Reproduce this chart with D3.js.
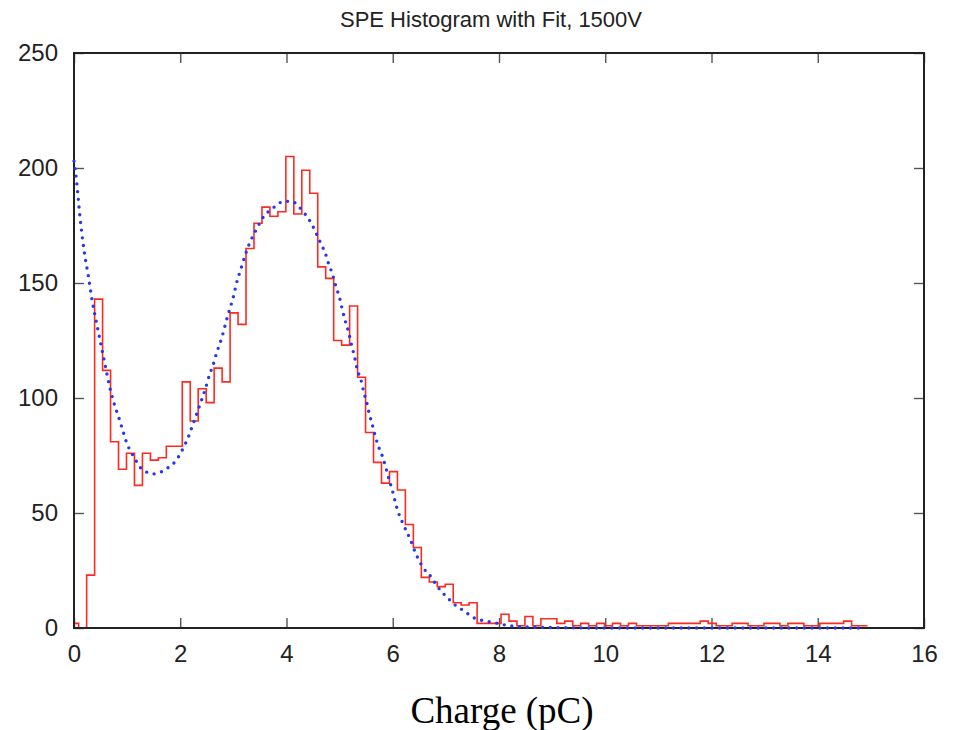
<!DOCTYPE html>
<meta charset="utf-8">
<script src="https://d3js.org/d3.v7.min.js"></script>
<style>
  body { margin: 0; background: #fff; }
</style>
<div id="chart"></div>
<script>

// histogram: first bin starts below 0 and is clipped at the axis
const binStart = -0.062;
const binWidth = 0.15;
const counts = [
  2, 0, 23, 143, 112, 81, 69, 76, 62, 76,
  73, 74, 79, 79, 107, 90, 104, 98, 113, 107,
  137, 132, 165, 176, 183, 179, 181, 205, 180, 199,
  189, 157, 152, 125, 123, 140, 109, 85, 72, 63,
  68, 60, 45, 35, 22, 20, 18, 19, 11, 10,
  11, 2, 2, 2, 6, 3, 1, 5, 1, 4,
  4, 2, 3, 1, 2, 1, 2, 1, 2, 1,
  2, 1, 1, 1, 1, 2, 2, 2, 2, 3,
  2, 1, 1, 2, 2, 1, 1, 2, 2, 1,
  2, 2, 1, 1, 2, 2, 2, 3, 1, 1
];

// fit curve
const fitX = [0, 0.05, 0.107, 0.19, 0.27, 0.345, 0.43, 0.5, 0.58, 0.66, 0.75, 0.85, 0.93, 1.0,
  1.085, 1.16, 1.24, 1.35, 1.5, 1.65, 1.79, 1.91, 2.04, 2.16, 2.23, 2.3, 2.4, 2.48, 2.55, 2.62,
  2.69, 2.75, 2.81, 2.86, 2.93, 3.0, 3.06, 3.14, 3.22, 3.3, 3.38, 3.45, 3.53, 3.68, 3.8, 3.94,
  4.1, 4.24, 4.35, 4.44, 4.51, 4.58, 4.65, 4.73, 4.79, 4.87, 4.93, 5.0, 5.05, 5.1, 5.17, 5.23,
  5.29, 5.33, 5.4, 5.45, 5.51, 5.56, 5.62, 5.67, 5.73, 5.8, 5.86, 5.92, 5.99, 6.08, 6.18, 6.33,
  6.44, 6.58, 6.73, 6.82, 6.92, 7.03, 7.14, 7.27, 7.39, 7.55, 7.71, 7.87, 8.02, 8.18, 8.5, 9.0,
  10, 12, 14.8];
const fitY = [203, 194, 180, 164, 153, 142, 132, 124, 115, 106, 98, 91, 85, 80,
  76, 73, 70, 68, 67, 68, 70, 72.5, 77.5, 83.5, 88, 92.5, 99, 104.5, 110, 114.5,
  120, 124, 128.5, 133, 138.5, 144, 150, 156, 162, 167, 171, 174, 177.5, 181.5, 183.5, 185.5,
  185.5, 183, 180, 177, 174, 170.5, 167, 163, 158.5, 153.5, 148.5, 143.5, 138.5, 134, 128.5, 122.5,
  117, 112.5, 108, 103, 98, 93, 88, 83.5, 79, 75, 70.5, 65.5, 60, 52, 46, 38.5,
  32, 26, 22, 18.7, 15.8, 13.2, 10.6, 8.5, 6.6, 4.2, 3.2, 2.5, 1.8, 1.0, 0.5, 0.2,
  0, 0, 0];

const xTicks = [0, 2, 4, 6, 8, 10, 12, 14, 16];
const yTicks = [0, 50, 100, 150, 200, 250];
const title = "SPE Histogram with Fit, 1500V";
const xLabel = "Charge (pC)";

const W = 956, H = 730;
const margin = {left: 74, right: 924, top: 53, bottom: 628};

const svg = d3.select("#chart").append("svg")
  .attr("width", W).attr("height", H)
  .style("font-family", "'Liberation Sans', Arial, sans-serif");

const x = d3.scaleLinear().domain([0, 16]).range([margin.left, margin.right]);
const y = d3.scaleLinear().domain([0, 250]).range([margin.bottom, margin.top]);

svg.append("clipPath").attr("id", "clip")
  .append("rect").attr("x", margin.left).attr("y", margin.top - 5)
  .attr("width", margin.right - margin.left).attr("height", margin.bottom - margin.top + 5);

// axes: gnuplot style, ticks pointing inward, mirrored
function styleAxis(g) {
  g.select(".domain").remove();
  g.selectAll(".tick line").attr("stroke", "#555").attr("stroke-width", 1.4);
  g.selectAll(".tick text").attr("fill", "#222").style("font-size", "24px")
    .style("font-family", "'Liberation Sans', Arial, sans-serif");
}

svg.append("g").attr("transform", `translate(0,${margin.bottom})`)
  .call(d3.axisBottom(x).tickValues(xTicks).tickSize(-10).tickPadding(17))
  .call(styleAxis);
svg.append("g").attr("transform", `translate(0,${margin.top})`)
  .call(d3.axisTop(x).tickValues(xTicks).tickSize(-10).tickFormat(""))
  .call(styleAxis);
svg.append("g").attr("transform", `translate(${margin.left},0)`)
  .call(d3.axisLeft(y).tickValues(yTicks).tickSize(-10).tickPadding(16))
  .call(styleAxis);
svg.append("g").attr("transform", `translate(${margin.right},0)`)
  .call(d3.axisRight(y).tickValues(yTicks).tickSize(-10).tickFormat(""))
  .call(styleAxis);

// histogram as steps
const steps = counts.map((c, i) => [Math.max(0, binStart + i * binWidth), c]);
steps.push([binStart + counts.length * binWidth, counts[counts.length - 1]]);

svg.append("path")
  .datum(steps)
  .attr("clip-path", "url(#clip)")
  .attr("fill", "none")
  .attr("stroke", "#ff2a1f")
  .attr("stroke-width", 1.6)
  .attr("d", d3.line().x(d => x(d[0])).y(d => y(d[1])).curve(d3.curveStepAfter));

// frame
svg.append("rect")
  .attr("x", margin.left).attr("y", margin.top)
  .attr("width", margin.right - margin.left).attr("height", margin.bottom - margin.top)
  .attr("fill", "none").attr("stroke", "#222").attr("stroke-width", 2);

// fit, dotted (drawn over the frame like the original)
const fit = fitX.map((v, i) => [v, fitY[i]]);
svg.append("path")
  .datum(fit)
  .attr("fill", "none")
  .attr("stroke", "#2538ee")
  .attr("stroke-width", 3.4)
  .attr("stroke-linecap", "round")
  .attr("stroke-dasharray", "0 7.7")
  .attr("d", d3.line().x(d => x(d[0])).y(d => y(d[1])).curve(d3.curveMonotoneX));

svg.append("text")
  .attr("x", 491).attr("y", 27)
  .attr("text-anchor", "middle")
  .attr("fill", "#222")
  .style("font-size", "22px")
  .text(title);

svg.append("text")
  .attr("x", 502).attr("y", 723)
  .attr("text-anchor", "middle")
  .attr("fill", "#000")
  .style("font-family", "'Liberation Serif', 'Times New Roman', serif")
  .style("font-size", "37px")
  .text(xLabel);

</script>
